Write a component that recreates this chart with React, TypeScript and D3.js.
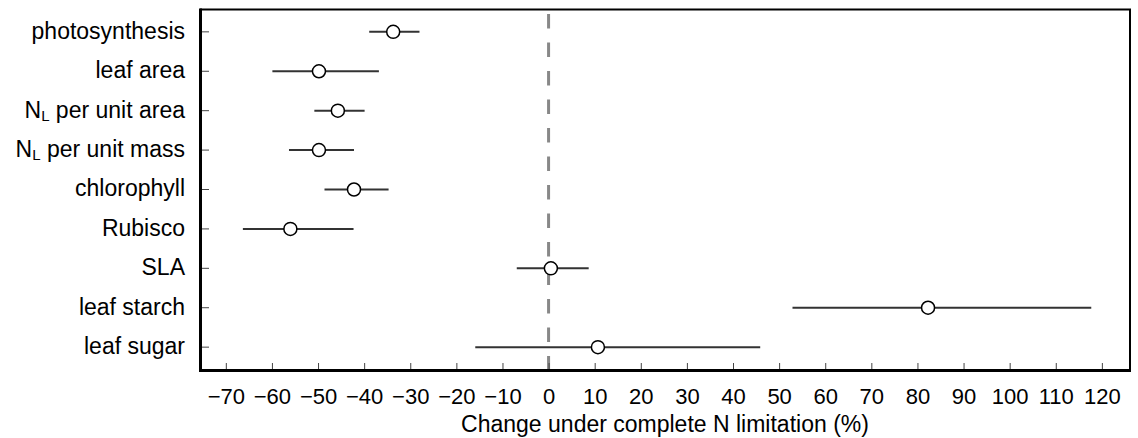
import React, { useEffect, useRef } from "react";
import * as d3 from "d3";

// rows, top to bottom ("N_L" means N with subscript L)
const categories = [
  "photosynthesis",
  "leaf area",
  "N_L per unit area",
  "N_L per unit mass",
  "chlorophyll",
  "Rubisco",
  "SLA",
  "leaf starch",
  "leaf sugar",
];
// mean change (%) and interval ends
const means = [-33.7, -49.8, -45.7, -49.8, -42.2, -56.0, 0.5, 82.3, 10.7];
const lower = [-38.9, -59.9, -50.8, -56.3, -48.6, -66.3, -6.9, 52.9, -15.9];
const upper = [-28.0, -36.8, -39.9, -42.2, -34.7, -42.3, 8.7, 117.7, 45.9];

const xTicks = d3.range(-70, 121, 10);
const xTitle = "Change under complete N limitation (%)";

export default function App() {
  const svgRef = useRef<SVGSVGElement>(null);

  useEffect(() => {
    if (!svgRef.current) return;
    const width = 1138;
    const height = 438;
    const left = 200;
    const right = 1130;
    const top = 9;
    const bottom = 370;
    const font = "'Liberation Sans', Arial, Helvetica, sans-serif";

    const svg = d3.select(svgRef.current).attr("width", width).attr("height", height);
    svg.selectAll("*").remove();

    const x = d3.scaleLinear().domain([-75.6, 126.1]).range([left, right]);
    const y = d3.scalePoint<string>().domain(categories).range([top, bottom]).padding(0.58);

    const rows = categories.map((c, i) => ({ c, m: means[i], lo: lower[i], hi: upper[i] }));

    // zero reference line
    svg.append("line")
      .attr("x1", x(0)).attr("x2", x(0))
      .attr("y1", 14).attr("y2", bottom)
      .attr("stroke", "#888")
      .attr("stroke-width", 3)
      .attr("stroke-dasharray", "14.5,14");

    // x axis ticks + labels
    const xAxis = d3.axisBottom(x)
      .tickValues(xTicks)
      .tickSizeInner(-7)
      .tickSizeOuter(0)
      .tickPadding(18)
      .tickFormat(d3.format("d"));
    const gx = svg.append("g").attr("transform", `translate(0,${bottom})`).call(xAxis);
    gx.select(".domain").remove();
    gx.selectAll(".tick line").attr("stroke", "#444").attr("stroke-width", 1);
    gx.selectAll(".tick text")
      .attr("fill", "#000")
      .style("font-family", font)
      .style("font-size", "22px");

    // y ticks
    svg.append("g").selectAll("line")
      .data(categories)
      .enter()
      .append("line")
      .attr("x1", left).attr("x2", left + 9)
      .attr("y1", d => y(d)!).attr("y2", d => y(d)!)
      .attr("stroke", "#444")
      .attr("stroke-width", 1);

    // y labels
    const labels = svg.append("g").selectAll("text")
      .data(categories)
      .enter()
      .append("text")
      .attr("x", 185)
      .attr("y", d => y(d)!)
      .attr("dy", "0.3em")
      .attr("text-anchor", "end")
      .style("font-family", font)
      .style("font-size", "23px")
      .attr("fill", "#000");
    labels.each(function (d) {
      const t = d3.select(this);
      if (d.startsWith("N_L")) {
        t.append("tspan").text("N");
        t.append("tspan").attr("dy", 3).style("font-size", "15px").text("L");
        t.append("tspan").attr("dy", -3).text(d.slice(3));
      } else {
        t.text(d);
      }
    });

    // error bars
    svg.append("g").selectAll("line")
      .data(rows)
      .enter()
      .append("line")
      .attr("x1", d => x(d.lo)).attr("x2", d => x(d.hi))
      .attr("y1", d => y(d.c)!).attr("y2", d => y(d.c)!)
      .attr("stroke", "#333")
      .attr("stroke-width", 2);

    // means
    svg.append("g").selectAll("circle")
      .data(rows)
      .enter()
      .append("circle")
      .attr("cx", d => x(d.m))
      .attr("cy", d => y(d.c)!)
      .attr("r", 6.5)
      .attr("fill", "#fff")
      .attr("stroke", "#000")
      .attr("stroke-width", 1.5);

    // frame: thin top/right, heavy left/bottom
    const frame = svg.append("g").attr("stroke", "#000").attr("fill", "none");
    frame.append("line").attr("x1", left).attr("x2", right + 1).attr("y1", top + 0.5).attr("y2", top + 0.5).attr("stroke-width", 2);
    frame.append("line").attr("x1", right).attr("x2", right).attr("y1", top).attr("y2", bottom).attr("stroke-width", 2);
    frame.append("line").attr("x1", left + 0.5).attr("x2", left + 0.5).attr("y1", top - 0.5).attr("y2", bottom + 2).attr("stroke-width", 3);
    frame.append("line").attr("x1", left - 1).attr("x2", right + 1).attr("y1", bottom + 0.5).attr("y2", bottom + 0.5).attr("stroke-width", 3);

    // x title
    svg.append("text")
      .attr("x", (left + right) / 2)
      .attr("y", 432)
      .attr("text-anchor", "middle")
      .style("font-family", font)
      .style("font-size", "23px")
      .attr("fill", "#000")
      .text(xTitle);
  }, []);

  return (
    <svg
      ref={svgRef}
      width={1138}
      height={438}
      style={{ position: "absolute", left: 0, top: 0, background: "#fff" }}
    />
  );
}
